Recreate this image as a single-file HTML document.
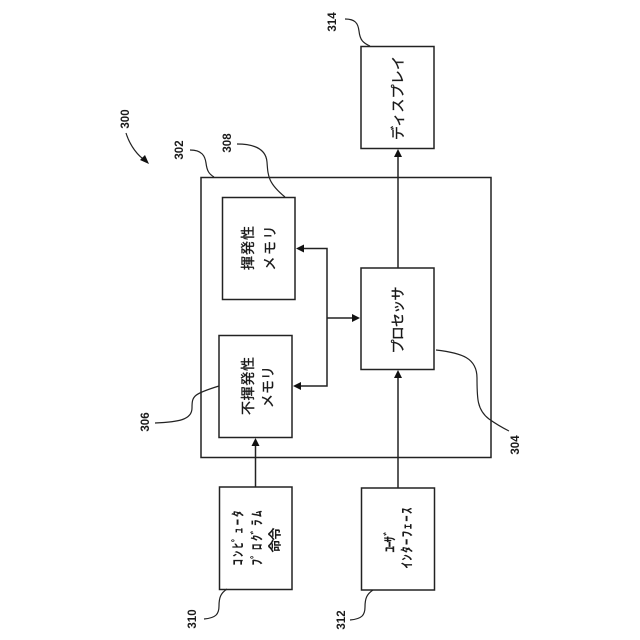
<!DOCTYPE html>
<html>
<head>
<meta charset="utf-8">
<style>
html,body{margin:0;padding:0;background:#fff;width:640px;height:640px;overflow:hidden}
svg{display:block}
text{fill:#1a1a1a;font-family:"Liberation Sans","Noto Sans CJK JP",sans-serif;text-anchor:middle;dominant-baseline:central}
.b{fill:none;stroke:#222;stroke-width:1.5}
.l{fill:none;stroke:#222;stroke-width:1.2}
.h{fill:#111;stroke:none}
.n{font-size:11.5px;font-weight:bold}
.j{font-size:14px;stroke:#1a1a1a;stroke-width:.35}
.s{font-size:13px;font-weight:bold}
</style>
</head>
<body>
<svg width="640" height="640" viewBox="0 0 640 640" xmlns="http://www.w3.org/2000/svg">
<rect class="b" x="201" y="177.5" width="290" height="280"/>
<rect class="b" x="361" y="46.500" width="73" height="102"/>
<rect class="b" x="222.500" y="197.500" width="72.500" height="102"/>
<rect class="b" x="219" y="335.500" width="73" height="102"/>
<rect class="b" x="361" y="268" width="73" height="101.500"/>
<rect class="b" x="219.500" y="487" width="72.500" height="102.500"/>
<rect class="b" x="361.500" y="488" width="73" height="102"/>

<path class="b" d="M398 268V156"/><path class="h" d="M398 149l-4 8h8z"/>
<path class="b" d="M398 488V377"/><path class="h" d="M398 370l-4 8h8z"/>
<path class="b" d="M255.500 487V445"/><path class="h" d="M255.500 438l-4 8h8z"/>
<path class="b" d="M303 248.500H327V386H300"/>
<path class="h" d="M296 248.500l8 -4v8z"/>
<path class="h" d="M293 386l8 -4v8z"/>
<path class="b" d="M327 318H353"/><path class="h" d="M360 318l-8 -4v8z"/>

<path class="l" d="M126 133C130 146 138 156 146 161"/>
<path class="h" d="M149 164l-9 -4 5 -5z"/>
<path class="l" d="M190 150C202 150 205 156 206 163C207 171 209 174 214 177"/>
<path class="l" d="M237 144C256 144 266 150 267 162C268 176 268 183 285 197"/>
<path class="l" d="M345 19C355 19 358 23 359 31C360 40 363 43 370 46"/>
<path class="l" d="M155 423C178 422 192 420 192 408C192 396 193 394 219 386"/>
<path class="l" d="M204 619C216 618 219 614 219 606C219 597 221 593 227 589"/>
<path class="l" d="M350 620C362 619 365 615 365 607C365 598 367 594 373 590"/>
<path class="l" d="M436 350C462 353 477 358 477 378C477 398 477 410 489 419C496 424 503 428 509 431"/>

<text class="n" transform="translate(126 119) rotate(-90)">300</text>
<text class="n" transform="translate(180 150) rotate(-90)">302</text>
<text class="n" transform="translate(228 143) rotate(-90)">308</text>
<text class="n" transform="translate(333 22) rotate(-90)">314</text>
<text class="n" transform="translate(146 422) rotate(-90)">306</text>
<text class="n" transform="translate(193 619) rotate(-90)">310</text>
<text class="n" transform="translate(342 620) rotate(-90)">312</text>
<text class="n" transform="translate(516 445) rotate(-90)">304</text>

<text class="j" transform="translate(398 98) rotate(-90)" textLength="84" lengthAdjust="spacing">ディスプレイ</text>
<text class="j" transform="translate(248 248) rotate(-90)" textLength="44" lengthAdjust="spacing">揮発性</text>
<text class="j" transform="translate(270 248) rotate(-90)" textLength="45" lengthAdjust="spacing">メモリ</text>
<text class="j" transform="translate(248 386) rotate(-90)" textLength="58" lengthAdjust="spacing">不揮発性</text>
<text class="j" transform="translate(268 387) rotate(-90)" textLength="42" lengthAdjust="spacing">メモリ</text>
<text class="j" transform="translate(398 320) rotate(-90)" textLength="67" lengthAdjust="spacing">プロセッサ</text>
<text class="s" transform="translate(238 538) rotate(-90)" textLength="55" lengthAdjust="spacing">ｺﾝﾋﾟｭｰﾀ</text>
<text class="s" transform="translate(257 538) rotate(-90)" textLength="55" lengthAdjust="spacing">ﾌﾟﾛｸﾞﾗﾑ</text>
<text class="s" transform="translate(275 540) rotate(-90)" textLength="25" lengthAdjust="spacing">命令</text>
<text class="s" transform="translate(390 541) rotate(-90)" textLength="23" lengthAdjust="spacing">ﾕｰｻﾞ</text>
<text class="s" transform="translate(407 538) rotate(-90)" textLength="61" lengthAdjust="spacing">ｲﾝﾀｰﾌｪｰｽ</text>
</svg>
</body>
</html>
